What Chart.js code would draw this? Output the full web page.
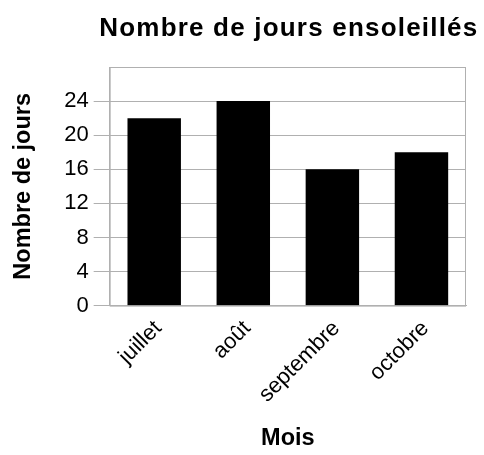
<!DOCTYPE html>
<html>
<head>
<meta charset="utf-8">
<script src="https://cdn.jsdelivr.net/npm/chart.js@4"></script>
<style>
  html, body { margin: 0; padding: 0; background: #fff; }
  #wrap { width: 484px; height: 455px; }
</style>
</head>
<body>
<div id="wrap"><canvas id="chart"></canvas></div>
<script>
// ── Data ──
const months = ["juillet", "août", "septembre", "octobre"];
const sunnyDays = [22, 24, 16, 18];
const yTicks = [0, 4, 8, 12, 16, 20, 24, 28];
const chartTitle = "Nombre de jours ensoleillés";

const FONT = "'Liberation Sans', Arial, Helvetica, sans-serif";
const GRID = "#b0b0b0";

// frame round the plot area + title centred over the plot
const framePlugin = {
    id: "frame",
    afterDatasetsDraw(chart) {
        const { ctx, chartArea: a } = chart;
        ctx.save();
        ctx.strokeStyle = GRID;
        ctx.lineWidth = 1;
        ctx.strokeRect(a.left + 0.5, a.top + 0.5, a.right - a.left - 1, a.bottom - a.top);
        ctx.restore();
    },
    afterDraw(chart) {
        const { ctx, chartArea: a } = chart;
        ctx.save();
        ctx.font = "bold 26px " + FONT;
        ctx.letterSpacing = "1.2px";
        ctx.fillStyle = "#000";
        ctx.textAlign = "center";
        ctx.textBaseline = "alphabetic";
        ctx.fillText(chartTitle, (a.left + a.right) / 2 + 1, a.top - 31);
        ctx.restore();
    }
};

new Chart(document.getElementById("chart"), {
    type: "bar",
    data: {
        labels: months,
        datasets: [{
            data: sunnyDays,
            backgroundColor: "#000",
            barPercentage: 0.6,
            categoryPercentage: 1,
        }],
    },
    options: {
        responsive: true,
        maintainAspectRatio: false,
        animation: false,
        layout: { padding: { left: 0, right: 18, top: 67, bottom: 0 } },
        plugins: {
            legend: { display: false },
            tooltip: { enabled: false },
            title: { display: false },
        },
        scales: {
            x: {
                grid: { display: false },
                border: { color: GRID },
                ticks: {
                    color: "#000",
                    font: { family: FONT, size: 22 },
                    maxRotation: 45,
                    minRotation: 45,
                    padding: 2,
                    labelOffset: 4,
                },
                title: {
                    display: true,
                    text: "Mois",
                    color: "#000",
                    font: { family: FONT, size: 23.5, weight: "bold" },
                    padding: { top: 15, bottom: 2 },
                },
            },
            y: {
                min: 0,
                max: 28,
                afterBuildTicks(scale) {
                    scale.ticks = yTicks.map(v => ({ value: v }));
                },
                grid: {
                    color: GRID,
                    tickLength: 16,
                    tickColor: c => (c.tick && c.tick.value === 28 ? "transparent" : GRID),
                },
                border: { color: GRID },
                ticks: {
                    color: "#000",
                    font: { family: FONT, size: 22 },
                    padding: 5,
                    callback: v => (v === 28 ? "" : v),
                },
                title: {
                    display: true,
                    text: "Nombre de jours",
                    color: "#000",
                    font: { family: FONT, size: 23.5, weight: "bold" },
                    padding: { top: 9, bottom: 22 },
                },
            },
        },
    },
    plugins: [framePlugin],
});
</script>
</body>
</html>
